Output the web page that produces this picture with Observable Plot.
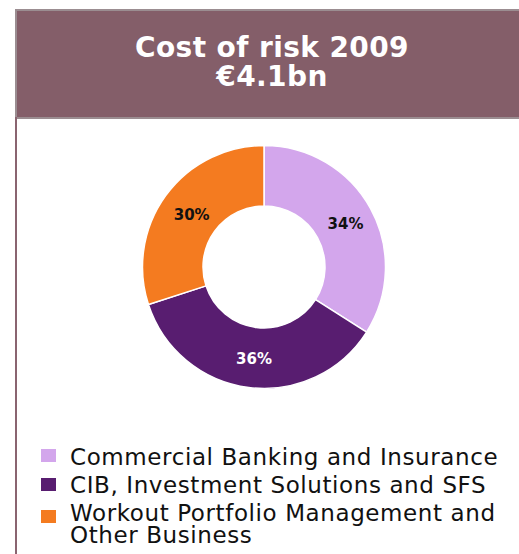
<!DOCTYPE html>
<html>
<head>
<meta charset="utf-8">
<script src="https://cdn.jsdelivr.net/npm/d3@7"></script>
<script src="https://cdn.jsdelivr.net/npm/@observablehq/plot@0.6"></script>
<style>
  html, body { margin: 0; padding: 0; background: #fff; }
  #wrap { position: relative; width: 519px; height: 554px; overflow: hidden; }
  #header { position: absolute; left: 15px; top: 9px; width: 504px; height: 106px;
    background: #845E69; border-top: 2px solid #9B8D91; border-left: 2px solid #9B8D91; border-bottom: 2px solid #9B8D91; box-sizing: content-box; }
  #leftline { position: absolute; left: 15px; top: 117px; width: 2px; height: 437px; background: #8A6470; }
  .ttl { position: absolute; left: 3px; width: 504px; text-align: center; color: #fff;
    font-family: "DejaVu Sans", Verdana, sans-serif; font-weight: bold; font-size: 28px; line-height: 29px; letter-spacing: 0.4px; white-space: nowrap; }
  #chart { position: absolute; left: 0; top: 117px; }
  .sw { position: absolute; width: 15px; height: 13px; }
  .lt { position: absolute; font-family: "DejaVu Sans", Verdana, sans-serif; font-size: 23px; line-height: 22px; letter-spacing: 0.6px; color: #111; white-space: nowrap; }
</style>
</head>
<body>
<div id="wrap">
  <div id="header"></div>
  <div id="leftline"></div>
  <div id="chart"></div>
  <div id="legend"></div>
</div>
<script>
const titleLines = ["Cost of risk 2009", "€4.1bn"];
const categories = ["Commercial Banking and Insurance", "CIB, Investment Solutions and SFS", "Workout Portfolio Management and Other Business"];
const legendLines = [["Commercial Banking and Insurance"], ["CIB, Investment Solutions and SFS"], ["Workout Portfolio Management and", "Other Business"]];
const shares = [34, 36, 30];
const shareLabels = ["34%", "36%", "30%"];
const sliceColors = ["#D3A6EC", "#581D70", "#F47B20"];
const labelColors = ["#111111", "#ffffff", "#111111"];

// header text
const header = document.getElementById("header");
const titleTops = [21.8, 50.8];
titleLines.forEach((t, i) => {
  const d = document.createElement("div");
  d.className = "ttl";
  d.style.top = titleTops[i] + "px";
  d.textContent = t;
  header.appendChild(d);
});

// pie geometry
const innerFrac = 61 / 121.5;
const pie = d3.pie().sort(null).value(d => d)(shares);
const rows = categories.map((c, i) => {
  const a0 = pie[i].startAngle, a1 = pie[i].endAngle;
  const mid = (a0 + a1) / 2;
  const rm = (1 + innerFrac) / 2;
  return {category: c, share: shares[i], label: shareLabels[i], color: sliceColors[i], lc: labelColors[i],
    a0, a1, lx: Math.sin(mid) * rm, ly: Math.cos(mid) * rm};
});

function donut(index, scales, values, dimensions, context) {
  const cx = scales.x(0), cy = scales.y(0);
  const R = scales.x(1) - scales.x(0);
  const r = scales.x(innerFrac) - scales.x(0);
  const arc = d3.arc().innerRadius(r).outerRadius(R);
  const g = d3.create("svg:g").attr("transform", `translate(${cx},${cy})`);
  g.selectAll("path").data(rows).join("path")
    .attr("d", d => arc({startAngle: d.a0, endAngle: d.a1}))
    .attr("fill", d => d.color)
    .attr("stroke", "#fff")
    .attr("stroke-width", 1.5)
    .attr("stroke-linejoin", "round");
  return g.node();
}

const plot = Plot.plot({
  width: 519,
  height: 300,
  margin: 0,
  x: {domain: [-1, 1], range: [142.5, 385.5], axis: null},
  y: {domain: [-1, 1], range: [150 + 121.5, 150 - 121.5], axis: null},
  color: {type: "identity"},
  style: {background: "transparent"},
  marks: [
    donut,
    Plot.text(rows, {x: "lx", y: "ly", text: "label", fill: "lc", fontSize: 15, fontWeight: "bold",
      fontFamily: "DejaVu Sans, Verdana, sans-serif", textAnchor: "middle", dx: 1, dy: 1, style: "letter-spacing:2px"})
  ]
});
document.getElementById("chart").appendChild(plot);

// legend
const legend = document.getElementById("legend");
const lineTops = [[446], [474], [502, 524]];
const swTops = [449, 478, 510];
legendLines.forEach((lines, i) => {
  const sw = document.createElement("div");
  sw.className = "sw";
  sw.style.left = "41px";
  sw.style.top = swTops[i] + "px";
  sw.style.background = sliceColors[i];
  legend.appendChild(sw);
  lines.forEach((line, j) => {
    const t = document.createElement("div");
    t.className = "lt";
    t.style.left = "70px";
    t.style.top = lineTops[i][j] + "px";
    t.textContent = line;
    legend.appendChild(t);
  });
});
</script>
</body>
</html>
